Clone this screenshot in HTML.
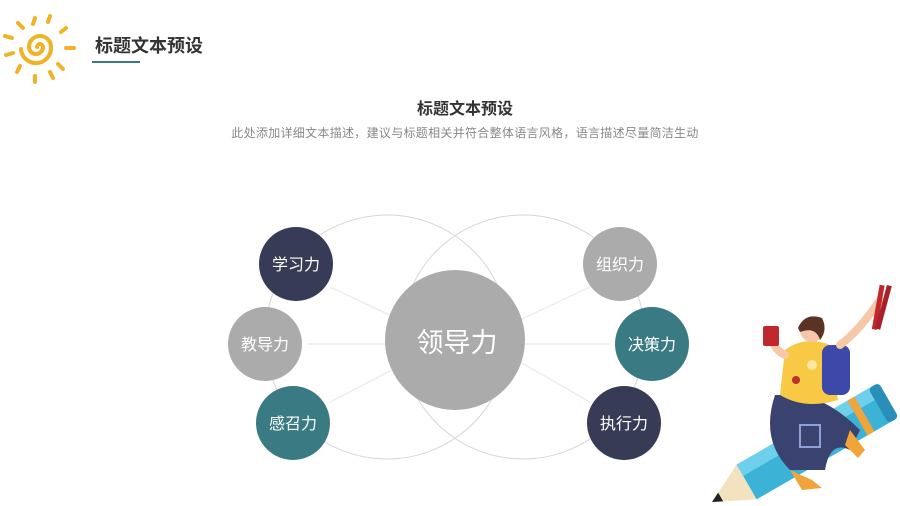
<!DOCTYPE html>
<html><head><meta charset="utf-8"><style>
html,body{margin:0;padding:0;background:#fff;}
svg{display:block;font-family:"Liberation Sans","Noto Sans CJK SC",sans-serif;}
</style></head><body>
<svg width="900" height="506" viewBox="0 0 900 506" xmlns="http://www.w3.org/2000/svg">
<g stroke="#f0b323" stroke-linecap="round" fill="none">
<path d="M40 47 m-3 0 a3 3 0 1 1 6 0 a7 7 0 1 1 -14 0 a11 11 0 1 1 22 0 a15 15 0 1 1 -30 2" stroke-width="4"/>
<g stroke-width="4">
<line x1="35" y1="18" x2="33" y2="24"/><line x1="50" y1="16" x2="48" y2="22"/>
<line x1="18" y1="23" x2="23" y2="28"/><line x1="66" y1="28" x2="61" y2="32"/>
<line x1="5" y1="36" x2="12" y2="38"/><line x1="66" y1="48" x2="74" y2="48"/>
<line x1="6" y1="55" x2="13" y2="53"/><line x1="58" y1="64" x2="63" y2="69"/>
<line x1="17" y1="72" x2="20" y2="66"/><line x1="35" y1="76" x2="35" y2="82"/>
<line x1="50" y1="72" x2="53" y2="78"/>
</g></g>
<text x="95" y="52" font-size="18" font-weight="bold" fill="#333">标题文本预设</text>
<rect x="92" y="61" width="48" height="2" fill="#3a7a82"/>
<text x="465" y="114" font-size="16" font-weight="bold" fill="#333" text-anchor="middle">标题文本预设</text>
<text x="465" y="137" font-size="12" letter-spacing="0.3" fill="#888" text-anchor="middle">此处添加详细文本描述，建议与标题相关并符合整体语言风格，语言描述尽量简洁生动</text>
<circle cx="387" cy="337" r="122" fill="none" stroke="#d6d6d6" stroke-width="1"/>
<circle cx="523" cy="337" r="122" fill="none" stroke="#d6d6d6" stroke-width="1"/>
<g stroke="#ececec" stroke-width="1.5">
<line x1="330" y1="287" x2="400" y2="320"/><line x1="308" y1="344" x2="392" y2="344"/><line x1="330" y1="402" x2="400" y2="366"/>
<line x1="590" y1="287" x2="520" y2="320"/><line x1="610" y1="344" x2="525" y2="344"/><line x1="590" y1="402" x2="520" y2="362"/>
</g>
<circle cx="455" cy="340" r="70" fill="#ababab"/>
<text x="457" y="352" font-size="27" fill="#fff" text-anchor="middle">领导力</text>
<g font-size="16" fill="#fff" text-anchor="middle">
<circle cx="296" cy="264" r="37" fill="#373b56"/><text x="296" y="270">学习力</text>
<circle cx="265" cy="344" r="37" fill="#ababab"/><text x="265" y="350">教导力</text>
<circle cx="293" cy="423" r="37" fill="#3a7a82"/><text x="293" y="429">感召力</text>
<circle cx="620" cy="264" r="37" fill="#ababab"/><text x="620" y="270">组织力</text>
<circle cx="652" cy="344" r="37" fill="#3a7a82"/><text x="652" y="350">决策力</text>
<circle cx="624" cy="423" r="37" fill="#373b56"/><text x="624" y="429">执行力</text>
</g>
<g transform="translate(712,502) rotate(-30)">
<polygon points="0,0 40,-20 40,20" fill="#f3e2c0"/>
<polygon points="0,0 10,-5 10,5" fill="#222"/>
<rect x="40" y="-20" width="160" height="40" fill="#3cb3d6"/>
<rect x="40" y="-20" width="160" height="13" fill="#6ed0ea"/>
<rect x="168" y="-20" width="8" height="40" fill="#f0a43a"/>
<rect x="192" y="-20" width="12" height="40" rx="4" fill="#2a8fb8"/>
</g>
<path d="M775 395 Q760 440 790 470 L825 470 Q830 440 850 450 L860 430 Q830 400 800 395 Z" fill="#3a4270"/>
<rect x="800" y="425" width="20" height="22" fill="none" stroke="#8fa0d8" stroke-width="2"/>
<path d="M790 470 L812 480 L822 488 L802 490 Z" fill="#f0a43a"/>
<path d="M850 430 L865 450 L858 458 L845 445 Z" fill="#f0a43a"/>
<path d="M785 350 Q805 335 830 345 L838 400 Q805 410 780 395 Z" fill="#f7c945"/>
<rect x="822" y="345" width="28" height="50" rx="8" fill="#3c49a8"/>
<circle cx="796" cy="380" r="4" fill="#b83030"/><circle cx="812" cy="365" r="5" fill="#fbe7a0"/>
<circle cx="812" cy="330" r="12" fill="#f7c7a9"/>
<path d="M798 328 Q805 312 822 318 Q828 330 820 340 Q816 326 800 332 Z" fill="#5a3325"/>
<path d="M785 355 Q775 350 772 340" stroke="#f7c7a9" stroke-width="8" fill="none" stroke-linecap="round"/>
<rect x="763" y="326" width="16" height="20" rx="2" fill="#c0282d"/>
<path d="M840 345 Q860 330 880 300" stroke="#f7c7a9" stroke-width="8" fill="none" stroke-linecap="round"/>
<rect x="877" y="285" width="5" height="45" fill="#c0282d" transform="rotate(10 880 300)"/>
<rect x="883" y="285" width="5" height="45" fill="#a8202a" transform="rotate(15 885 300)"/>
</svg>
</body></html>
